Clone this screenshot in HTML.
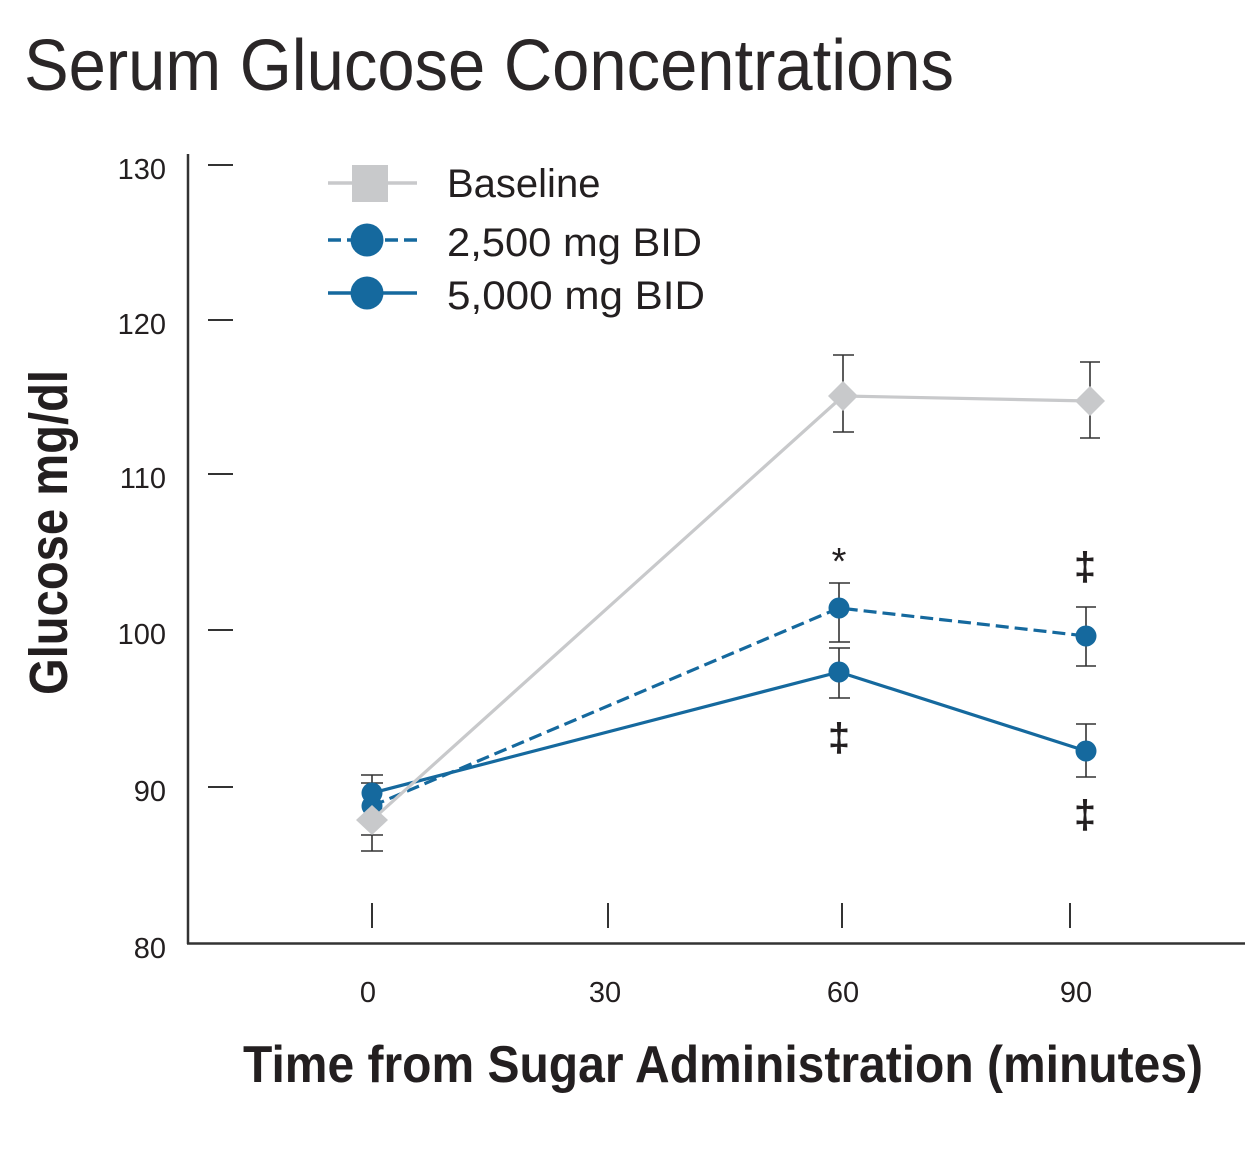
<!DOCTYPE html>
<html>
<head>
<meta charset="utf-8">
<style>
  html, body { margin:0; padding:0; background:#fff; }
  svg { display:block; }
  text { font-family: "Liberation Sans", "DejaVu Sans", sans-serif; fill:#231f20; }
</style>
</head>
<body>
<svg width="1260" height="1149" viewBox="0 0 1260 1149" xmlns="http://www.w3.org/2000/svg">
  <rect width="1260" height="1149" fill="#fff"/>

  <!-- Title -->
  <text x="24" y="90" font-size="72" textLength="930" lengthAdjust="spacingAndGlyphs" style="fill:#2a2627">Serum Glucose Concentrations</text>

  <!-- Axes -->
  <line x1="188" y1="154" x2="188" y2="944" stroke="#333" stroke-width="2.5"/>
  <line x1="187" y1="943.5" x2="1245" y2="943.5" stroke="#333" stroke-width="2.5"/>

  <!-- Y ticks -->
  <g stroke="#333" stroke-width="2">
    <line x1="208" y1="165" x2="233" y2="165"/>
    <line x1="208" y1="320" x2="233" y2="320"/>
    <line x1="208" y1="474" x2="233" y2="474"/>
    <line x1="208" y1="630" x2="233" y2="630"/>
    <line x1="208" y1="787" x2="233" y2="787"/>
  </g>
  <g font-size="29" text-anchor="end" style="fill:#2a2627">
    <text x="166" y="179">130</text>
    <text x="166" y="334">120</text>
    <text x="166" y="488">110</text>
    <text x="166" y="644">100</text>
    <text x="166" y="801">90</text>
    <text x="166" y="958">80</text>
  </g>

  <!-- X ticks -->
  <g stroke="#333" stroke-width="2">
    <line x1="372" y1="903" x2="372" y2="928"/>
    <line x1="608" y1="903" x2="608" y2="928"/>
    <line x1="842" y1="903" x2="842" y2="928"/>
    <line x1="1070" y1="903" x2="1070" y2="928"/>
  </g>
  <g font-size="29" text-anchor="middle">
    <text x="368" y="1002">0</text>
    <text x="605" y="1002">30</text>
    <text x="843" y="1002">60</text>
    <text x="1076" y="1002">90</text>
  </g>

  <!-- Axis titles -->
  <text x="243" y="1082" font-size="52" font-weight="bold" textLength="960" lengthAdjust="spacingAndGlyphs">Time from Sugar Administration (minutes)</text>
  <text transform="translate(67,695) rotate(-90)" x="0" y="0" font-size="54" font-weight="bold" textLength="325" lengthAdjust="spacingAndGlyphs">Glucose mg/dl</text>

  <!-- Legend -->
  <line x1="328" y1="183" x2="417" y2="183" stroke="#c8c9cb" stroke-width="3.5"/>
  <rect x="352" y="165" width="36" height="37" fill="#c8c9cb"/>
  <line x1="328" y1="240" x2="417" y2="240" stroke="#15699e" stroke-width="3.5" stroke-dasharray="13,6"/>
  <circle cx="367" cy="240" r="16.5" fill="#15699e"/>
  <line x1="328" y1="293" x2="417" y2="293" stroke="#15699e" stroke-width="3.5"/>
  <circle cx="367" cy="293" r="16.5" fill="#15699e"/>
  <g font-size="40">
    <text x="447" y="197">Baseline</text>
    <text x="447" y="256" textLength="255" lengthAdjust="spacingAndGlyphs">2,500 mg BID</text>
    <text x="447" y="309" textLength="258" lengthAdjust="spacingAndGlyphs">5,000 mg BID</text>
  </g>

  <!-- Error bars -->
  <g stroke="#333" stroke-width="1.6" fill="none">
    <line x1="372" y1="775" x2="372" y2="851"/>
    <line x1="361" y1="775" x2="383" y2="775"/>
    <line x1="361" y1="783" x2="383" y2="783"/>
    <line x1="361" y1="835" x2="383" y2="835"/>
    <line x1="361" y1="851" x2="383" y2="851"/>
    <line x1="843" y1="355" x2="843" y2="432"/>
    <line x1="833" y1="355" x2="854" y2="355"/>
    <line x1="833" y1="432" x2="854" y2="432"/>
    <line x1="1090" y1="362" x2="1090" y2="438"/>
    <line x1="1080" y1="362" x2="1100" y2="362"/>
    <line x1="1080" y1="438" x2="1100" y2="438"/>
    <line x1="839" y1="583" x2="839" y2="642"/>
    <line x1="829" y1="583" x2="850" y2="583"/>
    <line x1="829" y1="642" x2="850" y2="642"/>
    <line x1="1086" y1="607" x2="1086" y2="666"/>
    <line x1="1076" y1="607" x2="1096" y2="607"/>
    <line x1="1076" y1="666" x2="1096" y2="666"/>
    <line x1="839" y1="648" x2="839" y2="698"/>
    <line x1="829" y1="648" x2="850" y2="648"/>
    <line x1="829" y1="698" x2="850" y2="698"/>
    <line x1="1086" y1="724" x2="1086" y2="777"/>
    <line x1="1076" y1="724" x2="1096" y2="724"/>
    <line x1="1076" y1="777" x2="1096" y2="777"/>
  </g>

  <!-- 5000 mg series (solid) -->
  <polyline points="372,793 839,672 1086,751" fill="none" stroke="#15699e" stroke-width="3.2"/>
  <!-- 2500 mg series (dashed) -->
  <polyline points="372,806 839,608 1086,636" fill="none" stroke="#15699e" stroke-width="3.2" stroke-dasharray="13,6"/>
  <g fill="#15699e">
    <circle cx="372" cy="806" r="10.5"/>
    <circle cx="372" cy="793" r="10.5"/>
    <circle cx="839" cy="608" r="10.5"/>
    <circle cx="1086" cy="636" r="10.5"/>
    <circle cx="839" cy="672" r="10.5"/>
    <circle cx="1086" cy="751" r="10.5"/>
  </g>

  <!-- Baseline series -->
  <polyline points="372,820 843,396 1090,401" fill="none" stroke="#c8c9cb" stroke-width="3.2"/>
  <g fill="#c8c9cb">
    <polygon points="372,805 388,820 372,835 356,820"/>
    <polygon points="843,381 858,396 843,411 828,396"/>
    <polygon points="1090,386 1105,401 1090,416 1075,401"/>
  </g>

  <!-- Significance marks -->
  <text x="839" y="574" font-size="38" text-anchor="middle">*</text>
  <g font-size="40" font-weight="bold" text-anchor="middle">
    <text x="1085" y="580">‡</text>
    <text x="839" y="751">‡</text>
    <text x="1085" y="828">‡</text>
  </g>
</svg>
</body>
</html>
